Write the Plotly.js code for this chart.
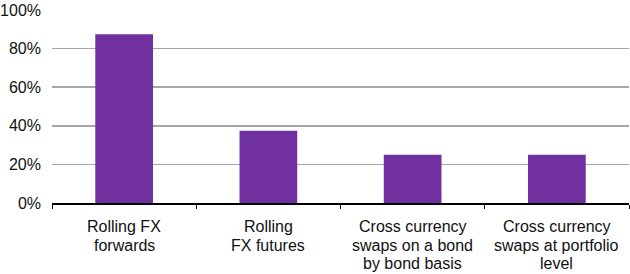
<!DOCTYPE html>
<html>
<head>
<meta charset="utf-8">
<script src="https://cdn.plot.ly/plotly-3.0.1.min.js"></script>
<style>html,body{margin:0;padding:0;background:#fff;}#chart{width:630px;height:274px;}</style>
</head>
<body>
<div id="chart"></div>
<script>
const categories = ["Rolling FX forwards", "Rolling FX futures", "Cross currency swaps on a bond by bond basis", "Cross currency swaps at portfolio level"];
const labelLines = [
  ["Rolling FX", "forwards"],
  ["Rolling", "FX futures"],
  ["Cross currency", "swaps on a bond", "by bond basis"],
  ["Cross currency", "swaps at portfolio", "level"]
];
const values = [0.875, 0.375, 0.25, 0.25];
const yTickVals = [0, 0.2, 0.4, 0.6, 0.8, 1.0];
const yTickText = ["0%", "20%", "40%", "60%", "80%", "100%"];

const trace = {
  type: "bar",
  x: categories,
  y: values,
  marker: {color: "#7030A0"},
  hoverinfo: "none"
};

const annotations = [];
labelLines.forEach((lines, ci) => {
  lines.forEach((txt, li) => {
    annotations.push({
      xref: "x", yref: "paper",
      x: categories[ci], y: 0,
      xanchor: "center", yanchor: "top",
      yshift: -14 - li * 18.7,
      text: txt, showarrow: false, borderpad: 0,
      font: {size: 16, color: "#111111"}
    });
  });
});

const layout = {
  width: 630,
  height: 274,
  margin: {l: 52, r: 1, t: 10, b: 71},
  paper_bgcolor: "#ffffff",
  plot_bgcolor: "#ffffff",
  font: {family: "Liberation Sans, Arial, Helvetica, sans-serif", color: "#111111", size: 16},
  bargap: 0.6,
  showlegend: false,
  annotations: annotations,
  xaxis: {
    type: "category",
    tickson: "boundaries",
    ticks: "outside",
    ticklen: 4,
    tickcolor: "#000000",
    tickwidth: 1,
    showline: true,
    linecolor: "#000000",
    linewidth: 1.5,
    showgrid: false,
    showticklabels: false,
    fixedrange: true
  },
  yaxis: {
    range: [0, 1.0],
    tickvals: yTickVals,
    ticktext: yTickText,
    showgrid: true,
    gridcolor: "#a6a6a6",
    gridwidth: 1.5,
    zeroline: false,
    showline: false,
    ticks: "",
    ticklabelstandoff: 10,
    tickfont: {size: 16},
    fixedrange: true
  }
};

Plotly.newPlot("chart", [trace], layout, {displayModeBar: false, staticPlot: true});
</script>
</body>
</html>
